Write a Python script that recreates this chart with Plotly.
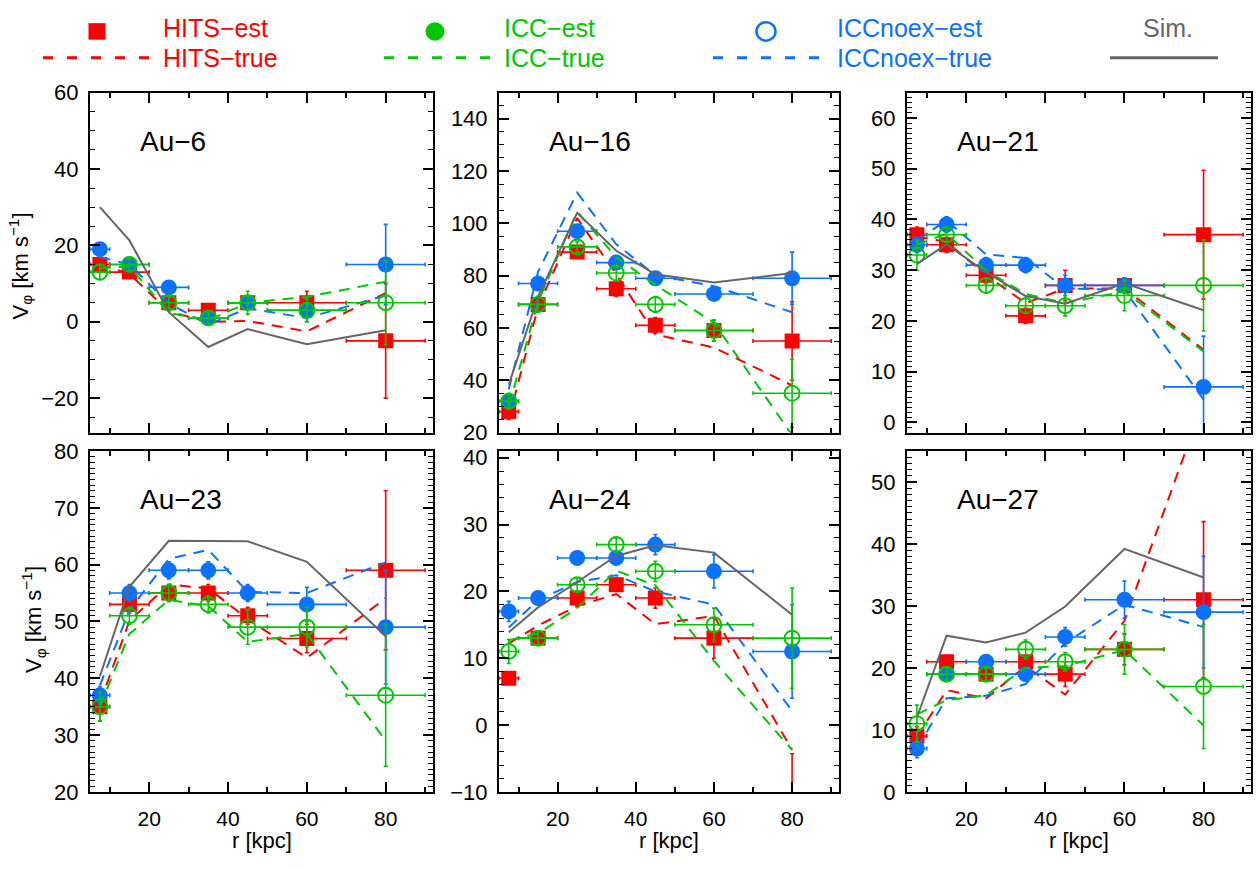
import plotly.graph_objects as go

# ---------------- data ----------------
R = [7.5, 15, 25, 35, 45, 60, 80]
R_ERR = [2.5, 5, 5, 5, 5, 10, 10]
HALOS = ["Au−6", "Au−16", "Au−21", "Au−23", "Au−24", "Au−27"]

au6_hits_est = [15, 13, 5, 3, 5, 5, -5]
au6_hits_err = [1, 1.5, 1.5, 1.5, 1.5, 3, 15]
au6_icc_est = [13, 15, 5, 1, 5, 3, 5]
au6_icc_err = [2, 1.5, 1.5, 1.5, 3, 3, 11]
au6_noex_est = [19, 15, 9, 1, 5, 3, 15]
au6_noex_err = [1.5, 1.5, 1.5, 1.5, 1.5, 3, 10.5]
au6_hits_true = [15, 12.5, 2.7, 0, 0.2, -2.5, 7.5]
au6_icc_true = [14, 14.5, 2.3, 0.4, 5, 6.5, 10.5]
au6_noex_true = [17, 15, 4.8, -0.7, 3.5, 1, 6.9]
au6_sim = [30, 21.3, 2.5, -6.6, -1.9, -5.9, -2.2]

au16_hits_est = [28, 69, 89, 75, 61, 59, 55]
au16_hits_err = [3, 3, 2, 3, 3, 4, 15]
au16_icc_est = [32, 69, 91, 81, 69, 59, 35]
au16_icc_err = [3, 3, 2, 3, 3, 4, 13]
au16_noex_est = [32, 77, 97, 85, 79, 73, 79]
au16_noex_err = [2, 2, 2, 2, 2, 2, 10]
au16_hits_true = [25.3, 68, 102, 80.5, 57.5, 52.5, 38]
au16_icc_true = [30, 70, 104.5, 87, 76.5, 62, 19]
au16_noex_true = [36.5, 81.5, 111.7, 92, 80.2, 76, 66]
au16_sim = [38.3, 72, 104, 89.5, 80.5, 77.4, 81]

au21_hits_est = [37, 35, 29, 21, 27, 27, 37]
au21_hits_err = [1.5, 1.5, 1.5, 1.5, 3, 1.5, 12.7]
au21_icc_est = [33, 37, 27, 23, 23, 25, 27]
au21_icc_err = [3, 1.5, 1.5, 1.5, 2, 3, 9]
au21_noex_est = [35, 39, 31, 31, 27, 27, 7]
au21_noex_err = [1.5, 1.5, 1.5, 1.5, 2, 1.5, 10]
au21_hits_true = [36.6, 35.6, 29, 23.5, 26.4, 26.4, 14.3]
au21_icc_true = [35, 37.2, 29.9, 25.3, 23.5, 25.8, 14]
au21_noex_true = [35.9, 39.8, 33.1, 32.4, 26.4, 26.1, 4.5]
au21_sim = [31.2, 35.1, 29.6, 24.9, 23.4, 27.4, 22.1]

au23_hits_est = [35, 53, 55, 55, 51, 47, 59]
au23_hits_err = [2.5, 1.5, 1.5, 1.5, 1.5, 2.5, 14]
au23_icc_est = [35, 51, 55, 53, 49, 49, 37]
au23_icc_err = [2.5, 1.5, 1.5, 1.5, 3, 3.5, 12.5]
au23_noex_est = [37, 55, 59, 59, 55, 53, 49]
au23_noex_err = [1.5, 1.5, 1.5, 1.5, 1.5, 3, 10]
au23_hits_true = [35.6, 50.1, 56.5, 55.8, 50.4, 43.6, 54.1]
au23_icc_true = [35, 47.8, 53.8, 52.7, 46.4, 47.8, 29]
au23_noex_true = [38.7, 52, 61, 62.6, 55.2, 55, 60.4]
au23_sim = [40.3, 56.1, 64.2, 64.2, 64.1, 60.5, 47.4]

au24_hits_est = [7, 13, 19, 21, 19, 13, -15]
au24_hits_err = [0.8, 0.5, 1, 1, 1.5, 3, 10.7]
au24_icc_est = [11, 13, 21, 27, 23, 15, 13]
au24_icc_err = [1.8, 1, 1, 1, 1.5, 2.5, 7.5]
au24_noex_est = [17, 19, 25, 25, 27, 23, 11]
au24_noex_err = [1.5, 1, 1, 1, 1.5, 2.5, 7]
au24_hits_true = [12.2, 14.9, 17.8, 19.6, 15.1, 16.3, -3.7]
au24_icc_true = [12.7, 13.7, 17.5, 23.1, 20.9, 9.6, -3.7]
au24_noex_true = [14.6, 18.7, 21.4, 22.4, 20, 18, 2.1]
au24_sim = [13.9, 17.6, 21.4, 25.3, 26.9, 25.8, 16.5]

au27_hits_est = [9, 21, 19, 21, 19, 23, 31]
au27_hits_err = [1.5, 1, 1, 1, 2, 2.5, 12.6]
au27_icc_est = [11, 19, 19, 23, 21, 23, 17]
au27_icc_err = [3, 1, 1, 1.5, 1.5, 4, 10]
au27_noex_est = [7, 19, 21, 19, 25, 31, 29]
au27_noex_err = [1.5, 1, 1, 1, 1.5, 3, 9]
au27_hits_true = [8.9, 16.4, 15.1, 20.3, 15.7, 27.6, 63]
au27_icc_true = [12.5, 14.8, 15.6, 20, 20.3, 22.9, 10.7]
au27_noex_true = [7, 15.1, 15.5, 17.4, 24, 30.2, 26.6]
au27_sim = [12, 25.2, 24.1, 25.7, 29.9, 39.2, 34.6]

Y_RANGES = [[-29, 60], [20, 150], [-2, 65], [20, 80], [-10, 41], [0, 55]]
Y_DTICK = [20, 20, 10, 10, 10, 10]
Y_MINOR = [5, 5, 1, 1, 2, 1]
X_RANGE = [5, 92]

PANELS = [
    (au6_hits_est, au6_hits_err, au6_icc_est, au6_icc_err, au6_noex_est, au6_noex_err,
     au6_hits_true, au6_icc_true, au6_noex_true, au6_sim),
    (au16_hits_est, au16_hits_err, au16_icc_est, au16_icc_err, au16_noex_est, au16_noex_err,
     au16_hits_true, au16_icc_true, au16_noex_true, au16_sim),
    (au21_hits_est, au21_hits_err, au21_icc_est, au21_icc_err, au21_noex_est, au21_noex_err,
     au21_hits_true, au21_icc_true, au21_noex_true, au21_sim),
    (au23_hits_est, au23_hits_err, au23_icc_est, au23_icc_err, au23_noex_est, au23_noex_err,
     au23_hits_true, au23_icc_true, au23_noex_true, au23_sim),
    (au24_hits_est, au24_hits_err, au24_icc_est, au24_icc_err, au24_noex_est, au24_noex_err,
     au24_hits_true, au24_icc_true, au24_noex_true, au24_sim),
    (au27_hits_est, au27_hits_err, au27_icc_est, au27_icc_err, au27_noex_est, au27_noex_err,
     au27_hits_true, au27_icc_true, au27_noex_true, au27_sim),
]

# ---------------- style ----------------
W, H = 1258, 869
RED = "#ff0000"
GREEN = "#00c800"
BLUE = "#0a72ff"
GRAY = "#666666"
FONT = "Liberation Sans, Arial, Helvetica, sans-serif"
COL_PX = [(90, 433), (499, 839), (907, 1251)]
ROW_PX = [(83, 433), (452, 803)]
DASH = "11px,8px"


def px_x(p):
    return p / W


def px_y(p):
    return 1 - p / H


fig = go.Figure()
annotations = []
shapes = []

for i, pan in enumerate(PANELS):
    (h_est, h_err, c_est, c_err, n_est, n_err, h_true, c_true, n_true, sim) = pan
    row, col = divmod(i, 3)
    k = "" if i == 0 else str(i + 1)
    xa, ya = "x" + k, "y" + k

    def est_trace(y, err, color, symbol, size, name, lw=0):
        return go.Scatter(
            x=R, y=y, mode="markers", xaxis=xa, yaxis=ya, name=name, showlegend=False,
            marker=dict(color=color, symbol=symbol, size=size, line=dict(color=color, width=lw)),
            error_x=dict(type="data", array=R_ERR, color=color, thickness=1.6, width=2),
            error_y=dict(type="data", array=err, color=color, thickness=1.6, width=2),
        )

    def true_trace(y, color, name):
        return go.Scatter(x=R, y=y, mode="lines", xaxis=xa, yaxis=ya, name=name,
                          showlegend=False, line=dict(color=color, width=2, dash=DASH))

    fig.add_trace(est_trace(h_est, h_err, RED, "square", 15, "HITS-est"))
    fig.add_trace(true_trace(h_true, RED, "HITS-true"))
    fig.add_trace(est_trace(n_est, n_err, BLUE, "circle", 16, "ICCnoex-est"))
    fig.add_trace(true_trace(n_true, BLUE, "ICCnoex-true"))
    fig.add_trace(est_trace(c_est, c_err, GREEN, "circle-open", 15, "ICC-est", lw=2))
    fig.add_trace(true_trace(c_true, GREEN, "ICC-true"))
    fig.add_trace(go.Scatter(x=R, y=sim, mode="lines", xaxis=xa, yaxis=ya, name="Sim.",
                             showlegend=False, line=dict(color=GRAY, width=2)))

    x0, x1 = COL_PX[col]
    y0, y1 = ROW_PX[row]
    axis_common = dict(
        showline=True, linewidth=2, linecolor="black", mirror="allticks",
        ticks="inside", ticklen=10, tickwidth=1.5, tickcolor="black",
        showgrid=False, zeroline=False,
        tickfont=dict(family=FONT, size=22, color="black"),
    )
    fig.layout["xaxis" + k] = dict(
        axis_common, domain=[px_x(x0), px_x(x1)], range=X_RANGE, anchor=ya,
        tickmode="linear", tick0=0, dtick=20, showticklabels=(row == 1),
        ticklabelstandoff=7,
        tickfont=dict(family=FONT, size=21, color="black"),
        minor=dict(dtick=10, tick0=0, ticks="inside", ticklen=5, tickwidth=1.5, tickcolor="black"),
    )
    fig.layout["yaxis" + k] = dict(
        axis_common, domain=[px_y(y1), px_y(y0)], range=Y_RANGES[i], anchor=xa,
        tickmode="linear", tick0=0, dtick=Y_DTICK[i],
        ticklabelstandoff=5,
        minor=dict(dtick=Y_MINOR[i], tick0=0, ticks="inside", ticklen=5, tickwidth=1.2, tickcolor="black"),
    )
    annotations.append(dict(
        text=HALOS[i], x=px_x(x0 + 48), y=px_y(y0 + 50), xref="paper", yref="paper",
        xanchor="left", yanchor="middle", showarrow=False,
        font=dict(family=FONT, size=28, color="black")))
    if row == 1:
        annotations.append(dict(
            text="r [kpc]", x=px_x((x0 + x1) / 2), y=px_y(868), xref="paper", yref="paper",
            xanchor="center", yanchor="bottom", showarrow=False,
            font=dict(family=FONT, size=22, color="black")))

# y-axis titles
for cx, cy in [(20, 262), (34, 626)]:
    annotations.append(dict(
        text="V<sub>φ</sub> [km s<sup>−1</sup>]", x=px_x(cx), y=px_y(cy),
        xref="paper", yref="paper", xanchor="center", yanchor="middle",
        textangle=-90, showarrow=False, font=dict(family=FONT, size=22, color="black")))

# ---------------- legend (drawn) ----------------
LEG_FONT = 25
legend_items = [
    ("HITS−est", "HITS−true", RED, 161, 43, 151),
    ("ICC−est", "ICC−true", GREEN, 502, 384, 491),
    ("ICCnoex−est", "ICCnoex−true", BLUE, 835, 713, 819),
]
for est, true, color, tx, lx0, lx1 in legend_items:
    annotations.append(dict(text=est, x=px_x(tx), y=px_y(16), xref="paper", yref="paper",
                            xanchor="left", yanchor="middle", showarrow=False,
                            font=dict(family=FONT, size=LEG_FONT, color=color)))
    annotations.append(dict(text=true, x=px_x(tx), y=px_y(47), xref="paper", yref="paper",
                            xanchor="left", yanchor="middle", showarrow=False,
                            font=dict(family=FONT, size=LEG_FONT, color=color)))
    shapes.append(dict(type="line", xref="paper", yref="paper",
                       x0=px_x(lx0), x1=px_x(lx1), y0=px_y(47), y1=px_y(47),
                       line=dict(color=color, width=3, dash="10px,14px")))

# legend symbols
shapes.append(dict(type="rect", xref="paper", yref="paper",
                   x0=px_x(88.5), x1=px_x(105.5), y0=px_y(28.5), y1=px_y(11.5),
                   fillcolor=RED, line=dict(width=0)))
shapes.append(dict(type="circle", xref="paper", yref="paper",
                   x0=px_x(425.5), x1=px_x(444.5), y0=px_y(29.5), y1=px_y(10.5),
                   fillcolor=GREEN, line=dict(width=0)))
shapes.append(dict(type="circle", xref="paper", yref="paper",
                   x0=px_x(756.5), x1=px_x(775.5), y0=px_y(29.5), y1=px_y(10.5),
                   fillcolor="rgba(0,0,0,0)", line=dict(color=BLUE, width=2.5)))
annotations.append(dict(text="Sim.", x=px_x(1168), y=px_y(16), xref="paper", yref="paper",
                        xanchor="center", yanchor="middle", showarrow=False,
                        font=dict(family=FONT, size=LEG_FONT, color=GRAY)))
shapes.append(dict(type="line", xref="paper", yref="paper",
                   x0=px_x(1110), x1=px_x(1218), y0=px_y(47), y1=px_y(47),
                   line=dict(color=GRAY, width=3)))

fig.update_layout(
    width=W, height=H, autosize=False,
    margin=dict(l=0, r=0, t=0, b=0),
    paper_bgcolor="white", plot_bgcolor="white",
    showlegend=False,
    annotations=annotations, shapes=shapes,
    font=dict(family=FONT, color="black"),
)

fig.write_html("out.html", config={"displayModeBar": False},
               post_script="document.body.style.margin='0';document.body.style.overflow='hidden';")
